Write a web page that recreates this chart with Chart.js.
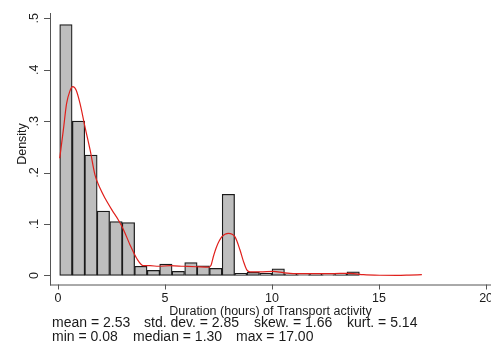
<!DOCTYPE html>
<html>
<head>
<meta charset="utf-8">
<title>Duration of Transport activity</title>
<script src="https://cdn.jsdelivr.net/npm/chart.js@4.4.1/dist/chart.umd.min.js"></script>
<style>
  html, body { margin: 0; padding: 0; background: #fff; }
  #wrap { width: 491px; height: 354px; }
</style>
</head>
<body>
<div id="wrap"><canvas id="chart" width="491" height="354"></canvas></div>
<script>
// Histogram: bin midpoints (hours) and density per bin
const binMids = [0.37, 0.96, 1.54, 2.12, 2.71, 3.29, 3.87, 4.46, 5.04, 5.62,
                 6.21, 6.79, 7.37, 7.96, 8.54, 9.12, 9.71, 10.29, 10.87, 11.46,
                 12.04, 12.62, 13.21, 13.79, 14.38, 14.96, 15.54, 16.13, 16.71];
const binDensity = [0.488, 0.300, 0.234, 0.125, 0.105, 0.103, 0.018, 0.010, 0.022, 0.008,
                    0.025, 0.019, 0.014, 0.158, 0.004, 0.006, 0.004, 0.013, 0.003, 0.002,
                    0.003, 0.002, 0.003, 0.007, 0, 0, 0, 0, 0];

// Kernel density curve
const kdeX = [0.08, 0.25, 0.40, 0.55, 0.69, 0.85, 1.03, 1.26, 1.50, 1.73,
              1.96, 2.20, 2.51, 2.82, 3.05, 3.36, 3.68, 3.99, 4.30, 4.70,
              5.23, 5.86, 6.48, 7.02, 7.15, 7.26, 7.41, 7.65, 7.96, 8.27,
              8.50, 8.66, 8.82, 8.97, 9.44, 10.06, 10.53, 10.84, 11.62, 12.40,
              13.18, 13.64, 14.27, 15.05, 15.83, 16.40, 17.00];
const kdeY = [0.228, 0.283, 0.334, 0.358, 0.367, 0.360, 0.334, 0.289, 0.244, 0.195,
              0.170, 0.150, 0.128, 0.108, 0.090, 0.060, 0.033, 0.019, 0.019, 0.018,
              0.019, 0.018, 0.017, 0.016, 0.020, 0.037, 0.056, 0.075, 0.082, 0.075,
              0.050, 0.028, 0.011, 0.007, 0.007, 0.008, 0.0055, 0.0042, 0.0036, 0.0036,
              0.004, 0.0042, 0.0016, 0.0005, 0.0003, 0.0008, 0.0016];

const xTicks = [0, 5, 10, 15, 20];
const xTickLabels = ['0', '5', '10', '15', '20'];
const yTicks = [0, 0.1, 0.2, 0.3, 0.4, 0.5];
const yTickLabels = ['0', '.1', '.2', '.3', '.4', '.5'];

const xTitle = 'Duration (hours) of Transport activity';
const yTitle = 'Density';
// summary statistics, one array per note line
const noteStats1 = ['mean = 2.53', 'std. dev. = 2.85', 'skew. = 1.66', 'kurt. = 5.14'];
const noteStats2 = ['min = 0.08', 'median = 1.30', 'max = 17.00'];

const FONT = '"Liberation Sans", Arial, sans-serif';
const AXIS_COLOR = '#555';
const TEXT_COLOR = '#1a1a1a';
// left edges of the note items on each line
const NOTE_X1 = [52, 144, 254, 347];
const NOTE_X2 = [52, 133, 236];

// Axes, ticks, titles and the summary note, drawn Stata-style
const stataFrame = {
  id: 'stataFrame',
  afterDraw(chart) {
    const { ctx, chartArea: area, scales: { x, y } } = chart;
    ctx.save();

    // axis lines and tick marks
    ctx.strokeStyle = AXIS_COLOR;
    ctx.lineWidth = 1;
    ctx.beginPath();
    ctx.moveTo(area.left + 0.5, area.top);
    ctx.lineTo(area.left + 0.5, area.bottom + 1);
    ctx.moveTo(area.left, area.bottom + 0.5);
    ctx.lineTo(area.right, area.bottom + 0.5);
    yTicks.forEach(v => {
      const py = Math.round(y.getPixelForValue(v)) + 0.5;
      ctx.moveTo(area.left - 6, py);
      ctx.lineTo(area.left, py);
    });
    xTicks.forEach(v => {
      const px = Math.round(x.getPixelForValue(v)) + 0.5;
      ctx.moveTo(px, area.bottom);
      ctx.lineTo(px, area.bottom + 5);
    });
    ctx.stroke();

    ctx.fillStyle = TEXT_COLOR;

    // x tick labels
    ctx.font = '12.5px ' + FONT;
    ctx.textAlign = 'center';
    ctx.textBaseline = 'middle';
    xTicks.forEach((v, i) => {
      ctx.fillText(xTickLabels[i], x.getPixelForValue(v), area.bottom + 14);
    });

    // y tick labels, rotated
    yTicks.forEach((v, i) => {
      ctx.save();
      ctx.translate(area.left - 15, y.getPixelForValue(v));
      ctx.rotate(-Math.PI / 2);
      ctx.fillText(yTickLabels[i], 0, 0);
      ctx.restore();
    });

    // axis titles
    ctx.fillText(xTitle, (area.left + area.right) / 2, area.bottom + 27);
    ctx.save();
    ctx.translate(23, 144);
    ctx.rotate(-Math.PI / 2);
    ctx.fillText(yTitle, 0, 0);
    ctx.restore();

    // summary statistics
    ctx.font = '14px ' + FONT;
    ctx.textAlign = 'left';
    noteStats1.forEach((s, i) => ctx.fillText(s, NOTE_X1[i], area.bottom + 38.5));
    noteStats2.forEach((s, i) => ctx.fillText(s, NOTE_X2[i], area.bottom + 53));

    ctx.restore();
  }
};

new Chart(document.getElementById('chart'), {
  type: 'bar',
  data: {
    datasets: [
      {
        type: 'line',
        label: 'kdensity',
        data: kdeX.map((v, i) => ({ x: v, y: kdeY[i] })),
        borderColor: '#e0201c',
        borderWidth: 1.2,
        pointRadius: 0,
        fill: false,
        cubicInterpolationMode: 'monotone',
        order: 0
      },
      {
        type: 'bar',
        label: 'Density',
        data: binMids.map((v, i) => ({ x: v, y: binDensity[i] })),
        backgroundColor: '#bebebe',
        borderColor: '#1a1a1a',
        borderWidth: 1.25,
        borderSkipped: false,
        barPercentage: 1,
        categoryPercentage: 1,
        order: 1
      }
    ]
  },
  options: {
    responsive: false,
    animation: false,
    devicePixelRatio: 1,
    layout: { padding: { left: 50, right: 0, top: 13, bottom: 69.5 } },
    plugins: {
      legend: { display: false },
      tooltip: { enabled: false }
    },
    scales: {
      x: { type: 'linear', display: false, offset: false, min: -0.374, max: 20.23 },
      y: { type: 'linear', display: false, min: -0.0175, max: 0.5103 }
    }
  },
  plugins: [stataFrame]
});
</script>
</body>
</html>
